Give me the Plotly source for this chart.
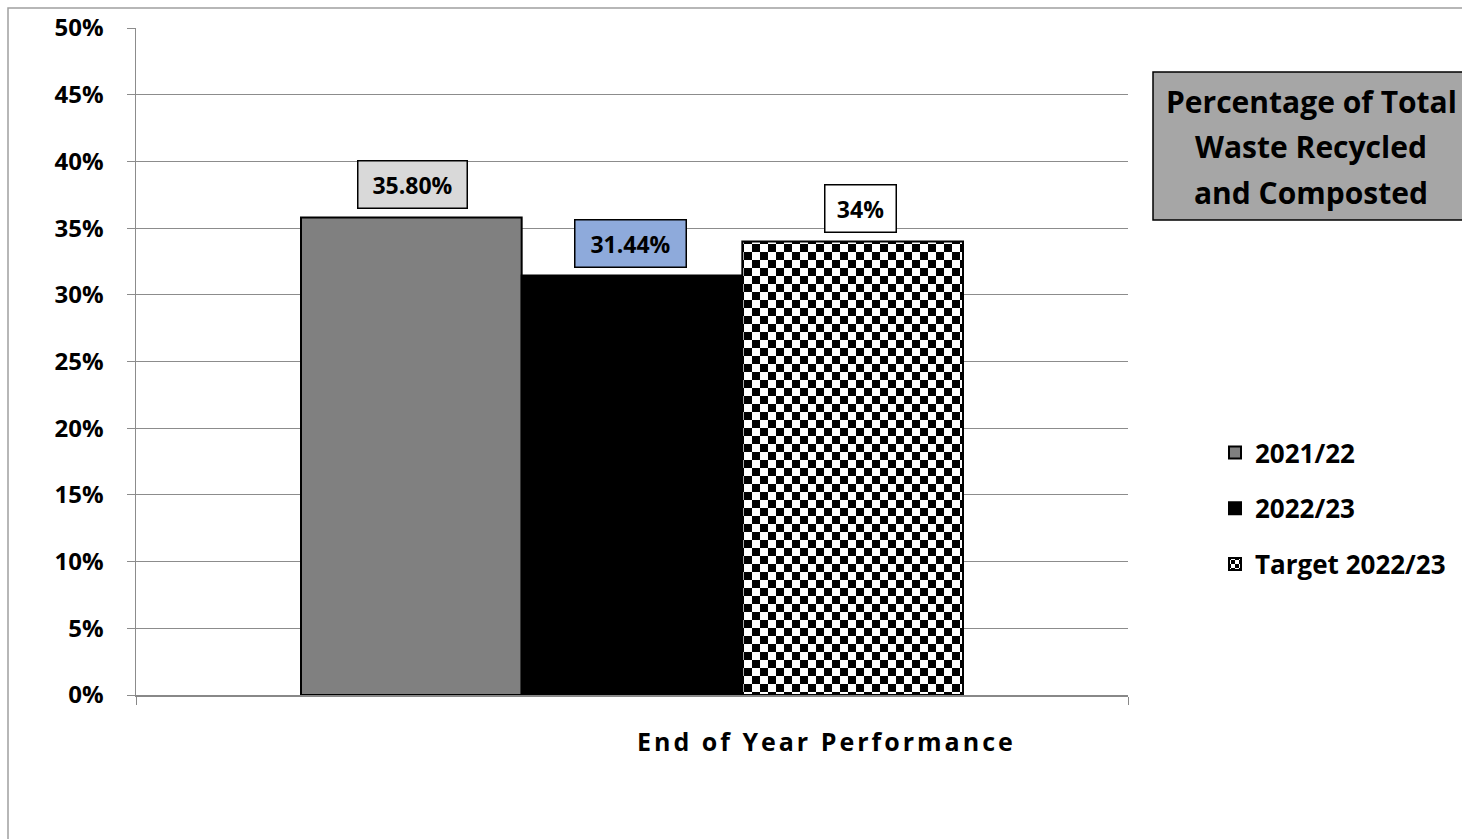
import plotly.graph_objects as go

# Recycling performance data
category = ["End of Year Performance"]
series_names = ["2021/22", "2022/23", "Target 2022/23"]
series_values = [35.80, 31.44, 34.0]
value_labels = ["35.80%", "31.44%", "34%"]
y_ticks = [0, 5, 10, 15, 20, 25, 30, 35, 40, 45, 50]
y_tick_labels = [f"{v}%" for v in y_ticks]
title_lines = ["Percentage of Total", "Waste Recycled", "and Composted"]

bar_colors = ["#808080", "#000000", "#ffffff"]
label_bg = ["#d9d9d9", "#8eaadb", "#ffffff"]
label_width = [108, 110, 70]

FONT = "Open Sans"
BOLD = dict(family=FONT, weight="bold", color="#000000")
BARGAP = 1 - 662 / 992


def px_x(px):
    return (px - 136) / 992


def px_y(py):
    return (695 - py) / 667


fig = go.Figure()
for i, (name, val) in enumerate(zip(series_names, series_values)):
    marker = dict(color=bar_colors[i], line=dict(color="#000000", width=2))
    if i == 2:
        marker["pattern"] = dict(shape="+", fgcolor="#000000", bgcolor="#ffffff",
                                 size=16, solidity=0.5, fillmode="replace")
    fig.add_trace(go.Bar(
        x=category, y=[val], name=name, marker=marker,
        legendgroup=name, hoverinfo="skip",
    ))

# value labels centred over each bar
group_w = 1 - BARGAP
bar_w = group_w / len(series_values)
for i, (val, txt) in enumerate(zip(series_values, value_labels)):
    cx = -group_w / 2 + bar_w * (i + 0.5)
    fig.add_annotation(
        x=cx, y=val, xref="x", yref="y", text=txt,
        showarrow=False, yanchor="bottom", yshift=8,
        xshift=[1, -2, 8][i],
        font=dict(BOLD, size=23),
        bgcolor=label_bg[i], bordercolor="#000000", borderwidth=1.5,
        borderpad=0, width=label_width[i], height=46,
    )

# x-axis title
fig.add_annotation(
    x=px_x(826), y=px_y(741), xref="paper", yref="paper",
    text='<span style="letter-spacing:3px">End of Year Performance</span>',
    showarrow=False, xanchor="center", yanchor="middle",
    font=dict(BOLD, size=25),
)

# chart title box
fig.add_shape(type="rect", xref="paper", yref="paper",
              x0=px_x(1153), x1=px_x(1475), y0=px_y(220), y1=px_y(72),
              fillcolor="#a6a6a6", line=dict(color="#000000", width=1.5), layer="above")
for line, py in zip(title_lines, [101, 147, 192]):
    fig.add_annotation(
        x=px_x(1311), y=px_y(py), xref="paper", yref="paper", text=line,
        showarrow=False, xanchor="center", yanchor="middle",
        font=dict(BOLD, size=30),
    )

# outer chart frame
fig.add_shape(type="rect", xref="paper", yref="paper",
              x0=px_x(8), x1=1.5, y0=-0.5, y1=px_y(8),
              line=dict(color="#a0a0a0", width=1.5), fillcolor="rgba(0,0,0,0)", layer="below")

fig.update_layout(
    width=1462, height=839,
    margin=dict(l=136, r=334, t=28, b=144, autoexpand=False),
    paper_bgcolor="#ffffff", plot_bgcolor="#ffffff",
    barmode="group", bargap=BARGAP, bargroupgap=0,
    showlegend=True,
    legend=dict(
        x=px_x(1215), y=px_y(429), xanchor="left", yanchor="top",
        font=dict(BOLD, size=26),
        tracegroupgap=19, traceorder="grouped", itemwidth=30,
        bgcolor="rgba(0,0,0,0)",
    ),
    font=dict(family=FONT),
)
fig.update_xaxes(
    showticklabels=False, showgrid=False, showline=True, linecolor="#888888", linewidth=1.5,
    ticks="outside", tickcolor="#888888", ticklen=8, tickson="boundaries",
    range=[-0.5, 0.5], fixedrange=True, automargin=False,
)
fig.update_yaxes(
    range=[0, 50], tickvals=y_ticks, ticktext=y_tick_labels,
    tickfont=dict(BOLD, size=24),
    showgrid=True, gridcolor="#8c8c8c", gridwidth=1,
    showline=True, linecolor="#8c8c8c", linewidth=1.5,
    ticks="outside", tickcolor="#8c8c8c", ticklen=8, ticklabelstandoff=18,
    zeroline=False, fixedrange=True, automargin=False,
)

# turn the "+" fill of the target bar into a checkerboard tile
checker_js = """
var gd = document.getElementById('{plot_id}');
function checker() {
  var NS = 'http://www.w3.org/2000/svg';
  gd.querySelectorAll('pattern').forEach(function (p) {
    var w = parseFloat(p.getAttribute('width')) || 16;
    var h = parseFloat(p.getAttribute('height')) || 16;
    while (p.firstChild) p.removeChild(p.firstChild);
    var bg = document.createElementNS(NS, 'rect');
    bg.setAttribute('width', w); bg.setAttribute('height', h); bg.setAttribute('fill', '#ffffff');
    p.appendChild(bg);
    [[0, 0], [w / 2, h / 2]].forEach(function (o) {
      var r = document.createElementNS(NS, 'rect');
      r.setAttribute('x', o[0]); r.setAttribute('y', o[1]);
      r.setAttribute('width', w / 2); r.setAttribute('height', h / 2);
      r.setAttribute('fill', '#000000');
      p.appendChild(r);
    });
  });
}
checker();
gd.on('plotly_afterplot', checker);
"""

fig.write_html("out.html", config={"staticPlot": True}, post_script=checker_js)
